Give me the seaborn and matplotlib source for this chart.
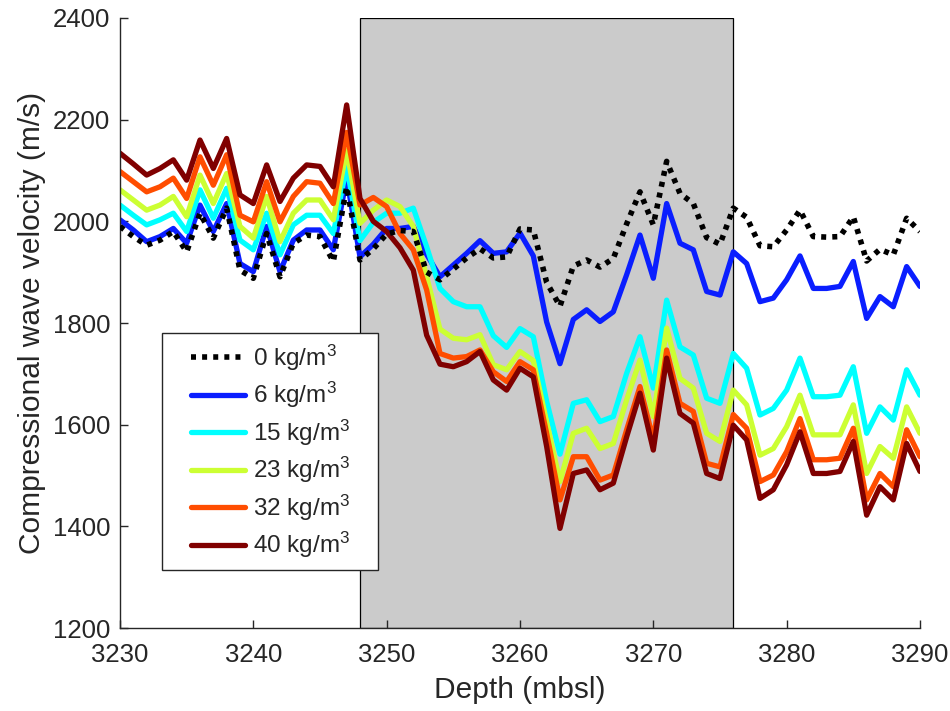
import numpy as np
import pandas as pd
import matplotlib
matplotlib.use("Agg")
import matplotlib.pyplot as plt
import seaborn as sns
from matplotlib.legend_handler import HandlerLine2D

depth = list(range(3230, 3291))

v0 = [1990, 1970, 1953, 1963, 1980, 1940, 2016, 1967, 2026, 1904,
      1888, 1976, 1891, 1957, 1973, 1970, 1921, 2068, 1924, 1946,
      1975, 1982, 1980, 1900, 1885, 1906, 1928, 1946, 1928, 1930,
      1985, 1983, 1880, 1833, 1912, 1924, 1910, 1927, 1995, 2058,
      1993, 2118, 2055, 2035, 1968, 1955, 2026, 2008, 1952, 1950,
      1983, 2022, 1970, 1969, 1970, 2009, 1922, 1945, 1934, 2006,
      1980]
v6 = [2003, 1983, 1960, 1970, 1986, 1957, 2032, 1980, 2035, 1917,
      1901, 1990, 1901, 1963, 1983, 1983, 1944, 2085, 1930, 1955,
      1986, 1986, 1990, 1935, 1891, 1914, 1937, 1962, 1937, 1940,
      1977, 1932, 1802, 1720, 1807, 1826, 1803, 1822, 1895, 1973,
      1888, 2035, 1957, 1944, 1862, 1855, 1940, 1917, 1842, 1849,
      1885, 1932, 1868, 1868, 1872, 1921, 1809, 1852, 1832, 1911,
      1872]
v15 = [2032, 2012, 1993, 2003, 2016, 1980, 2062, 2006, 2065, 1963,
       1944, 2016, 1934, 1993, 2012, 2012, 1976, 2108, 1962, 1998,
       2016, 2016, 2026, 1950, 1868, 1842, 1832, 1832, 1775, 1752,
       1789, 1773, 1646, 1542, 1642, 1649, 1606, 1616, 1701, 1773,
       1672, 1845, 1753, 1737, 1652, 1642, 1740, 1711, 1619, 1632,
       1668, 1731, 1655, 1655, 1658, 1714, 1583, 1635, 1609, 1708,
       1658]
v23 = [2062, 2042, 2022, 2032, 2049, 2009, 2091, 2035, 2094, 1990,
       1967, 2049, 1960, 2016, 2042, 2042, 2003, 2140, 1996, 2022,
       2042, 2029, 1990, 1891, 1788, 1770, 1767, 1777, 1718, 1708,
       1744, 1726, 1605, 1488, 1583, 1593, 1553, 1563, 1649, 1727,
       1616, 1790, 1691, 1672, 1583, 1567, 1668, 1639, 1540, 1553,
       1596, 1658, 1580, 1580, 1580, 1639, 1504, 1557, 1534, 1635,
       1583]
v32 = [2098, 2078, 2058, 2068, 2085, 2045, 2127, 2071, 2131, 2012,
       1999, 2078, 1999, 2049, 2078, 2075, 2035, 2175, 2032, 2047,
       2029, 1976, 1944, 1865, 1740, 1731, 1734, 1747, 1704, 1685,
       1724, 1708, 1583, 1452, 1537, 1537, 1491, 1501, 1590, 1675,
       1570, 1747, 1642, 1626, 1524, 1517, 1620, 1593, 1488, 1501,
       1547, 1612, 1531, 1531, 1534, 1593, 1452, 1504, 1478, 1590,
       1537]
v40 = [2134, 2113, 2091, 2104, 2121, 2081, 2160, 2104, 2163, 2052,
       2035, 2111, 2039, 2085, 2111, 2108, 2068, 2229, 2045, 2000,
       1980, 1948, 1904, 1776, 1719, 1714, 1724, 1744, 1688, 1668,
       1711, 1694, 1557, 1396, 1504, 1511, 1472, 1485, 1576, 1662,
       1550, 1731, 1622, 1603, 1504, 1494, 1599, 1570, 1455, 1472,
       1521, 1586, 1504, 1504, 1508, 1567, 1422, 1478, 1452, 1563,
       1508]

labels = ["0 kg/m$^3$", "6 kg/m$^3$", "15 kg/m$^3$",
          "23 kg/m$^3$", "32 kg/m$^3$", "40 kg/m$^3$"]
series = [v0, v6, v15, v23, v32, v40]
colors = ["black", "#0a1eff", "#00ffff", "#ccff33", "#ff4d00", "#800000"]

gas_zone = (3248, 3276)

sns.set_style("ticks")
plt.rcParams["font.family"] = ["Liberation Sans", "DejaVu Sans"]
plt.rcParams["mathtext.fontset"] = "custom"
plt.rcParams["mathtext.rm"] = "Liberation Sans"
plt.rcParams["mathtext.it"] = "Liberation Sans"

fig = plt.figure(figsize=(9.5, 7.11), dpi=100)
ax = fig.add_axes([0.1263, 0.1167, 0.8421, 0.858])

ax.axvspan(gas_zone[0], gas_zone[1], ymin=0, ymax=1, facecolor="#cbcbcb",
           edgecolor="black", linewidth=0.9, zorder=0)

for vals, lab, col in zip(series, labels, colors):
    df = pd.DataFrame({"Depth": depth, "Vp": vals})
    if col == "black":
        sns.lineplot(data=df, x="Depth", y="Vp", color=col, linewidth=4.0,
                     linestyle=(0, (0.9, 1.1)), label=lab, ax=ax, zorder=3)
    else:
        sns.lineplot(data=df, x="Depth", y="Vp", color=col, linewidth=3.8,
                     label=lab, ax=ax, zorder=2)

ax.set_xlim(3230, 3290)
ax.set_ylim(1200, 2400)
ax.set_xticks(range(3230, 3291, 10))
ax.set_yticks(range(1200, 2401, 200))
ax.set_xlabel("Depth (mbsl)", fontsize=21.5, color="#262626", labelpad=6)
ax.set_ylabel("Compressional wave velocity (m/s)", fontsize=21.5,
              color="#262626", labelpad=5)
ax.tick_params(direction="in", length=6, width=1, colors="#262626",
               labelsize=18.5)
ax.tick_params(axis="x", pad=11)
ax.tick_params(axis="y", pad=7)
for s in ["top", "right"]:
    ax.spines[s].set_visible(False)
for s in ["left", "bottom"]:
    ax.spines[s].set_color("#262626")
    ax.spines[s].set_linewidth(1)


class ShiftedLine(HandlerLine2D):
    """Line handle drawn with some empty room on its left."""
    def __init__(self, shift_px, **kw):
        super().__init__(**kw)
        self.shift_px = shift_px

    def create_artists(self, legend, orig_handle, xdescent, ydescent,
                       width, height, fontsize, trans):
        return super().create_artists(legend, orig_handle,
                                      xdescent - self.shift_px, ydescent,
                                      width - self.shift_px, height,
                                      fontsize, trans)


handles, labs = ax.get_legend_handles_labels()
leg = ax.legend(handles, labs, loc="upper left",
                bbox_to_anchor=(0.0525, 0.4836, 0.27, 0), mode="expand",
                fontsize=17.5, frameon=True, fancybox=False, edgecolor="#262626",
                framealpha=1, handlelength=3.0, handletextpad=0.35,
                labelspacing=0.3, borderpad=0.4, borderaxespad=0,
                handler_map={h: ShiftedLine(14) for h in handles})
leg.get_frame().set_linewidth(1)
leg.set_zorder(5)

fig.savefig("out.png", dpi=100)
